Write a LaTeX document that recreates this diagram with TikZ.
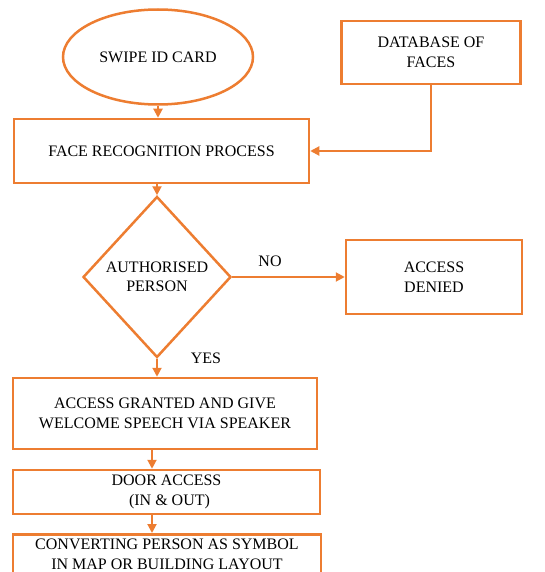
\documentclass[tikz,border=0pt]{standalone}
\usepackage{fontspec}
\setmainfont{Liberation Serif}
\usetikzlibrary{shapes.geometric,arrows.meta}
\definecolor{floworange}{RGB}{237,125,49}
\begin{document}
\begin{tikzpicture}[x=1pt,y=-1pt,
  every node/.style={font=\rmfamily\fontsize{16}{19.5}\selectfont},
  box/.style={draw=floworange,line width=2.5pt,align=center,inner sep=0pt},
  flow/.style={draw=floworange,line width=2pt,-{Triangle[length=9pt,width=9pt]}}]
\useasboundingbox (0,0) rectangle (544,572);
\node[box,ellipse,minimum width=190,minimum height=95] (swipe) at (158,57){SWIPE ID CARD};
\node[box,minimum width=179,minimum height=63] (db) at (431,52.5){DATABASE OF\\FACES};
\node[box,minimum width=295,minimum height=64] (frp) at (161.5,151){FACE RECOGNITION PROCESS};
\node[box,diamond,minimum width=148,minimum height=161] (auth) at (157,277){AUTHORISED\\PERSON};
\node[box,minimum width=176,minimum height=74] (denied) at (434,277){ACCESS\\DENIED};
\node[box,minimum width=304,minimum height=71] (granted) at (165,413.5){ACCESS GRANTED AND GIVE\\WELCOME SPEECH VIA SPEAKER};
\node[box,minimum width=307,minimum height=44] (door) at (166.5,492){DOOR ACCESS\\\hspace*{6pt}(IN \& OUT)};
\node[box,minimum width=308,minimum height=40,anchor=north] (layout) at (167,533){CONVERTING PERSON AS SYMBOL\\IN MAP OR BUILDING LAYOUT};
\node (no) at (270,261){NO};
\node (yes) at (206,358){YES};
\coordinate (down) at (152,0);
% arrows
\draw[flow] (swipe.south) -- (swipe.south |- frp.north);
\draw[flow] (db.south) |- (frp.east);
\draw[flow] (auth.north |- frp.south) -- (auth.north);
\draw[flow] (auth.east) -- (denied.west);
\draw[flow] (auth.south) -- (auth.south |- granted.north);
\draw[flow] (granted.south -| down) -- (door.north -| down);
\draw[flow] (door.south -| down) -- (layout.north -| down);
\end{tikzpicture}
\end{document}
